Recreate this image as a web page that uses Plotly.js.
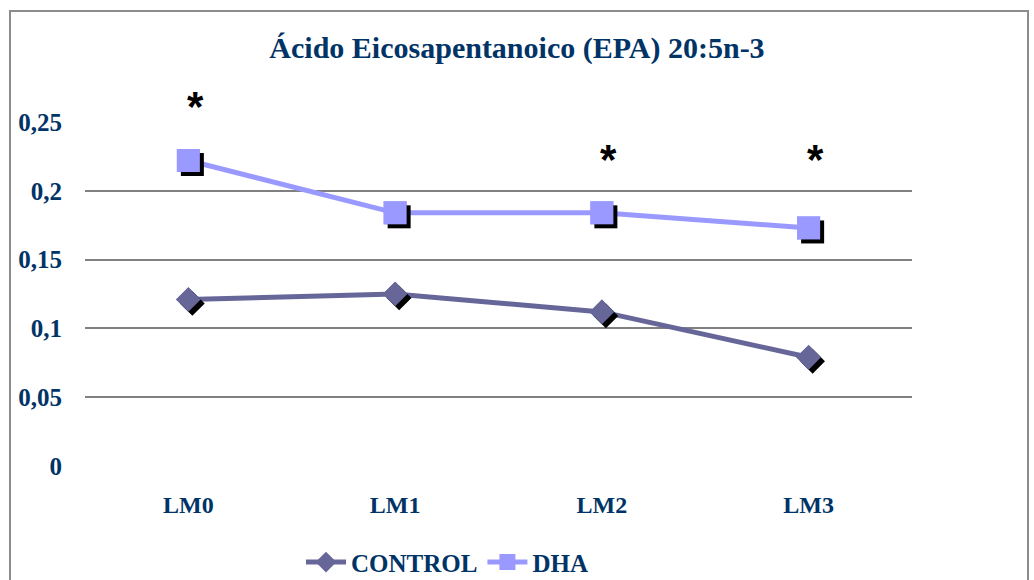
<!DOCTYPE html>
<html><head><meta charset="utf-8">
<script src="https://cdn.plot.ly/plotly-3.0.1.min.js"></script>
<style>
html,body{margin:0;padding:0;background:#fff;}
#wrap{position:relative;width:1034px;height:580px;overflow:hidden;}
#chart{position:absolute;left:0;top:0;width:1034px;height:580px;}
#frame{position:absolute;left:9px;top:10px;width:1020px;height:600px;border:2px solid #8c8c8c;box-sizing:border-box;pointer-events:none;}
</style></head>
<body><div id="wrap"><div id="chart"></div><div id="frame"></div></div>
<script>
const categories = ['LM0', 'LM1', 'LM2', 'LM3'];
const controlValues = [0.121, 0.125, 0.112, 0.079];
const dhaValues = [0.222, 0.184, 0.184, 0.173];
const significance = ['*', '', '*', '*'];
const seriesNames = ['CONTROL', 'DHA'];
const yTickValues = [0, 0.05, 0.1, 0.15, 0.2, 0.25];

const W = 1034, H = 580;
const mL = 85, mR = 122, mT = 122, mB = 114;
const plotW = W - mL - mR, plotH = H - mT - mB;
const xr = [-0.5, 3.5], yr = [0, 0.25];
const shX = 4 * (xr[1] - xr[0]) / plotW;
const shY = 4 * (yr[1] - yr[0]) / plotH;
const navy = '#003366';
const cCtrl = '#666699', cDha = '#9999ff';
const font = 'Liberation Serif, serif';

const traces = [
  {x: categories, y: controlValues, name: seriesNames[0], mode: 'lines+markers', type: 'scatter',
   line: {color: cCtrl, width: 5}, marker: {symbol: 'diamond', size: 19, color: cCtrl}, xaxis: 'x', yaxis: 'y'},
  {x: categories, y: dhaValues, name: seriesNames[1], mode: 'lines+markers', type: 'scatter',
   line: {color: cDha, width: 5}, marker: {symbol: 'square', size: 23, color: cDha}, xaxis: 'x', yaxis: 'y'},
  {x: categories, y: controlValues, mode: 'markers', showlegend: false, hoverinfo: 'skip',
   marker: {symbol: 'diamond', size: 19, color: '#000'}, xaxis: 'x2', yaxis: 'y2'},
  {x: categories, y: dhaValues, mode: 'markers', showlegend: false, hoverinfo: 'skip',
   marker: {symbol: 'square', size: 23, color: '#000'}, xaxis: 'x2', yaxis: 'y2'},
  {x: categories, y: controlValues, mode: 'markers', showlegend: false, hoverinfo: 'skip',
   marker: {symbol: 'diamond', size: 19, color: cCtrl}, xaxis: 'x3', yaxis: 'y3'},
  {x: categories, y: dhaValues, mode: 'markers', showlegend: false, hoverinfo: 'skip',
   marker: {symbol: 'square', size: 23, color: cDha}, xaxis: 'x3', yaxis: 'y3'}
];

const starLevel = [0.264, 0.226, 0.226, 0.226];
const annotations = [];
categories.forEach((c, i) => {
  if (significance[i]) {
    annotations.push({x: c, y: starLevel[i] / yr[1], xref: 'x', yref: 'paper', text: '<b>' + significance[i] + '</b>',
      showarrow: false, xshift: 7, yshift: -4, yanchor: 'middle',
      font: {family: 'Liberation Sans', size: 42, color: '#000'}});
  }
});

const hidden = {showgrid: false, zeroline: false, showticklabels: false, showline: false, ticks: ''};
const layout = {
  width: W, height: H,
  margin: {l: mL, r: mR, t: mT, b: mB, pad: 0, autoexpand: false},
  paper_bgcolor: '#fff', plot_bgcolor: '#fff',
  separators: ',.',
  showlegend: true,
  title: {text: '<b>Ácido Eicosapentanoico (EPA) 20:5n-3</b>', x: 0.5, xanchor: 'center', y: 0.918, yanchor: 'middle',
    font: {family: font, size: 30, color: navy}},
  xaxis: {type: 'category', range: xr, showgrid: false, zeroline: false, showline: false, ticks: '',
    ticklabelstandoff: 22, tickfont: {family: font, size: 24, color: navy, weight: 'bold'}},
  yaxis: {range: yr, tickvals: yTickValues, showgrid: true, gridcolor: '#808080', gridwidth: 2,
    zeroline: false, showline: false, ticks: '', ticklabelstandoff: 22,
    tickfont: {family: font, size: 25, color: navy, weight: 'bold'}},
  xaxis2: Object.assign({type: 'category', overlaying: 'x', range: [xr[0] - shX, xr[1] - shX]}, hidden),
  yaxis2: Object.assign({overlaying: 'y', range: [yr[0] + shY, yr[1] + shY]}, hidden),
  xaxis3: Object.assign({type: 'category', overlaying: 'x', range: xr}, hidden),
  yaxis3: Object.assign({overlaying: 'y', range: yr}, hidden),
  legend: {orientation: 'h', x: (301 - mL) / plotW, xanchor: 'left', y: -0.28, yanchor: 'middle',
    font: {family: font, size: 25, color: navy, weight: 'bold'}, itemwidth: 40, tracegroupgap: 0, bgcolor: 'rgba(0,0,0,0)'},
  annotations: annotations
};

Plotly.newPlot('chart', traces, layout, {displayModeBar: false, staticPlot: true});
</script></body></html>
